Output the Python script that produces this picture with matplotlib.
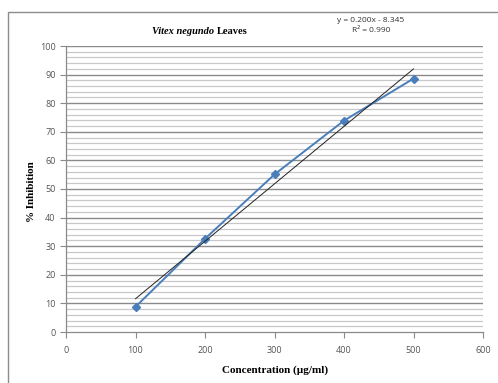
import numpy as np
import matplotlib
matplotlib.use("Agg")
import matplotlib.pyplot as plt
from matplotlib.patches import Rectangle

concentration = [100, 200, 300, 400, 500]
inhibition = [8.8, 32.6, 55.1, 73.9, 88.6]
x_ticks = [0, 100, 200, 300, 400, 500, 600]
y_ticks = [0, 10, 20, 30, 40, 50, 60, 70, 80, 90, 100]
equation_text = "y = 0.200x - 8.345\nR\u00b2 = 0.990"

fig = plt.figure(figsize=(4.98, 3.83), dpi=100)
fig.patch.set_facecolor("white")

# outer chart frame
fig.add_artist(Rectangle((8/498, -0.05), 1.2, 1 - 12/383 + 0.05, transform=fig.transFigure,
                         fill=False, edgecolor="#8c8c8c", linewidth=1.0))

ax = fig.add_axes([66/498, 1 - 332/383, (483 - 66)/498, (332 - 46)/383])
ax.set_xlim(0, 600)
ax.set_ylim(0, 100)

# gridlines
for v in np.arange(2, 100.1, 2):
    major = (round(v) % 10 == 0)
    ax.axhline(v, color="#8a8a8a" if major else "#c8c8c8", linewidth=1.0 if major else 0.9, zorder=0.5)

for s in ["top", "right"]:
    ax.spines[s].set_visible(False)
for s in ["left", "bottom"]:
    ax.spines[s].set_color("#8a8a8a")
    ax.spines[s].set_linewidth(0.9)

ax.set_xticks(x_ticks)
ax.set_yticks(y_ticks)
ax.tick_params(axis="both", colors="#8a8a8a", labelcolor="#555555", labelsize=6.5, length=4, width=0.8)
for lab in ax.get_xticklabels() + ax.get_yticklabels():
    lab.set_fontfamily("Open Sans")
ax.tick_params(axis="x", pad=6)

# data line
ax.plot(concentration, inhibition, color="#4a7ebb", linewidth=1.4, marker="D", markersize=3.8,
        markerfacecolor="#4a7ebb", markeredgecolor="#4a7ebb", zorder=3)

# linear trendline
coef = np.polyfit(concentration, inhibition, 1)
xs = np.array([concentration[0], concentration[-1]])
ax.plot(xs, np.polyval(coef, xs), color="#222222", linewidth=0.7, zorder=4)

# title: italic species name followed by plain bold word
t1 = fig.text(152/498, 1 - 31/383, "Vitex negundo", fontfamily="Liberation Serif", fontstyle="italic",
              fontweight="bold", fontsize=7.5, ha="left", va="center")
fig.canvas.draw()
bb = t1.get_window_extent(renderer=fig.canvas.get_renderer())
fig.text((bb.x1 + 3)/498, 1 - 31/383, "Leaves", fontfamily="Liberation Serif",
         fontweight="bold", fontsize=7.5, ha="left", va="center")

fig.text(371/498, 1 - 25/383, equation_text, fontfamily="Open Sans", fontsize=6, ha="center",
         va="center", color="#333333", linespacing=1.6)

fig.text(32/498, 1 - 192/383, "% Inhibition", fontfamily="Liberation Serif", fontweight="bold",
         fontsize=8, rotation=90, ha="center", va="center")
fig.text(275/498, 1 - 370/383, "Concentration (\u00b5g/ml)", fontfamily="Liberation Serif",
         fontweight="bold", fontsize=8, ha="center", va="center")

fig.savefig("out.png", dpi=100)
